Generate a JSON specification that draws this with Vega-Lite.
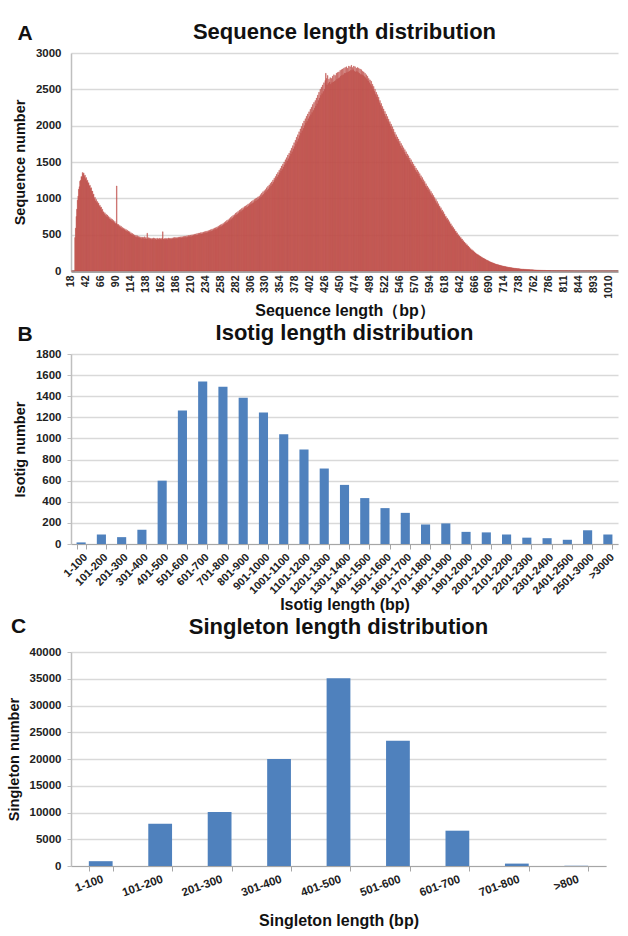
{
"$schema":"https://vega.github.io/schema/vega-lite/v6.json",
"background":"white",
"padding":{"left":6,"top":21,"right":12,"bottom":4},
"spacing":3,
"config":{
 "font":"Liberation Sans",
 "view":{"stroke":null},
 "title":{"font":"Liberation Sans","fontSize":22,"fontWeight":"bold","color":"#111111","anchor":"middle","offset":3},
 "axis":{"labelFont":"Liberation Sans","labelFontWeight":"bold","labelFontSize":11.5,"labelColor":"#222222","titleFont":"Liberation Sans","titleColor":"#111111","gridColor":"#D9D9D9","gridWidth":1.5,"domainColor":"#BFBFBF","tickColor":"#BFBFBF"},
 "axisY":{"titleFontSize":14.5,"titleFontWeight":"bold","titlePadding":8,"labelPadding":6,"tickSize":4,"domainWidth":1.5,"format":"d"},
 "axisX":{"titleFontSize":16,"titleFontWeight":"bold","grid":false}
},
"datasets":{
"seq":[
{"len":18,"n":0},{"len":19,"n":0},{"len":20,"n":0},{"len":21,"n":0},{"len":22,"n":0},{"len":23,"n":0},{"len":24,"n":460},{"len":25,"n":590},{"len":26,"n":750},{"len":27,"n":850},
{"len":28,"n":975},{"len":29,"n":1030},{"len":30,"n":1125},{"len":31,"n":1160},{"len":32,"n":1235},{"len":33,"n":1250},{"len":34,"n":1300},{"len":35,"n":1290},{"len":36,"n":1355},{"len":37,"n":1330},
{"len":38,"n":1350},{"len":39,"n":1300},{"len":40,"n":1320},{"len":41,"n":1270},{"len":42,"n":1285},{"len":43,"n":1235},{"len":44,"n":1250},{"len":45,"n":1205},{"len":46,"n":1215},{"len":47,"n":1170},
{"len":48,"n":1180},{"len":49,"n":1135},{"len":50,"n":1145},{"len":51,"n":1095},{"len":52,"n":1100},{"len":53,"n":1045},{"len":54,"n":1060},{"len":55,"n":995},{"len":56,"n":1015},{"len":57,"n":965},
{"len":58,"n":985},{"len":59,"n":940},{"len":60,"n":955},{"len":61,"n":915},{"len":62,"n":935},{"len":63,"n":890},{"len":64,"n":905},{"len":65,"n":870},{"len":66,"n":880},{"len":67,"n":835},
{"len":68,"n":850},{"len":69,"n":805},{"len":70,"n":815},{"len":71,"n":780},{"len":72,"n":800},{"len":73,"n":765},{"len":74,"n":780},{"len":75,"n":745},{"len":76,"n":770},{"len":77,"n":735},
{"len":78,"n":750},{"len":79,"n":715},{"len":80,"n":735},{"len":81,"n":705},{"len":82,"n":720},{"len":83,"n":690},{"len":84,"n":710},{"len":85,"n":680},{"len":86,"n":695},{"len":87,"n":665},
{"len":88,"n":680},{"len":89,"n":650},{"len":90,"n":660},{"len":91,"n":1170},{"len":92,"n":645},{"len":93,"n":625},{"len":94,"n":640},{"len":95,"n":610},{"len":96,"n":625},{"len":97,"n":600},
{"len":98,"n":615},{"len":99,"n":585},{"len":100,"n":600},{"len":101,"n":575},{"len":102,"n":590},{"len":103,"n":565},{"len":104,"n":580},{"len":105,"n":555},{"len":106,"n":570},{"len":107,"n":545},
{"len":108,"n":560},{"len":109,"n":535},{"len":110,"n":550},{"len":111,"n":525},{"len":112,"n":540},{"len":113,"n":510},{"len":114,"n":525},{"len":115,"n":500},{"len":116,"n":515},{"len":117,"n":490},
{"len":118,"n":505},{"len":119,"n":480},{"len":120,"n":495},{"len":121,"n":470},{"len":122,"n":490},{"len":123,"n":465},{"len":124,"n":485},{"len":125,"n":460},{"len":126,"n":475},{"len":127,"n":455},
{"len":128,"n":470},{"len":129,"n":450},{"len":130,"n":468},{"len":131,"n":445},{"len":132,"n":465},{"len":133,"n":448},{"len":134,"n":462},{"len":135,"n":440},{"len":136,"n":470},{"len":137,"n":445},
{"len":138,"n":460},{"len":139,"n":440},{"len":140,"n":520},{"len":141,"n":445},{"len":142,"n":458},{"len":143,"n":435},{"len":144,"n":455},{"len":145,"n":440},{"len":146,"n":450},{"len":147,"n":432},
{"len":148,"n":448},{"len":149,"n":438},{"len":150,"n":455},{"len":151,"n":430},{"len":152,"n":450},{"len":153,"n":436},{"len":154,"n":446},{"len":155,"n":428},{"len":156,"n":452},{"len":157,"n":435},
{"len":158,"n":445},{"len":159,"n":430},{"len":160,"n":450},{"len":161,"n":436},{"len":162,"n":448},{"len":163,"n":432},{"len":164,"n":455},{"len":165,"n":540},{"len":166,"n":442},{"len":167,"n":430},
{"len":168,"n":446},{"len":169,"n":434},{"len":170,"n":452},{"len":171,"n":438},{"len":172,"n":447},{"len":173,"n":430},{"len":174,"n":455},{"len":175,"n":440},{"len":176,"n":450},{"len":177,"n":437},
{"len":178,"n":452},{"len":179,"n":438},{"len":180,"n":455},{"len":181,"n":440},{"len":182,"n":458},{"len":183,"n":444},{"len":184,"n":462},{"len":185,"n":445},{"len":186,"n":460},{"len":187,"n":448},
{"len":188,"n":462},{"len":189,"n":446},{"len":190,"n":465},{"len":191,"n":450},{"len":192,"n":468},{"len":193,"n":452},{"len":194,"n":470},{"len":195,"n":455},{"len":196,"n":472},{"len":197,"n":458},
{"len":198,"n":475},{"len":199,"n":458},{"len":200,"n":478},{"len":201,"n":460},{"len":202,"n":480},{"len":203,"n":462},{"len":204,"n":485},{"len":205,"n":466},{"len":206,"n":488},{"len":207,"n":470},
{"len":208,"n":490},{"len":209,"n":472},{"len":210,"n":495},{"len":211,"n":475},{"len":212,"n":498},{"len":213,"n":480},{"len":214,"n":500},{"len":215,"n":485},{"len":216,"n":505},{"len":217,"n":488},
{"len":218,"n":510},{"len":219,"n":492},{"len":220,"n":515},{"len":221,"n":495},{"len":222,"n":520},{"len":223,"n":500},{"len":224,"n":522},{"len":225,"n":505},{"len":226,"n":528},{"len":227,"n":508},
{"len":228,"n":530},{"len":229,"n":512},{"len":230,"n":535},{"len":231,"n":515},{"len":232,"n":540},{"len":233,"n":520},{"len":234,"n":545},{"len":235,"n":525},{"len":236,"n":550},{"len":237,"n":530},
{"len":238,"n":555},{"len":239,"n":535},{"len":240,"n":560},{"len":241,"n":540},{"len":242,"n":568},{"len":243,"n":548},{"len":244,"n":575},{"len":245,"n":555},{"len":246,"n":580},{"len":247,"n":560},
{"len":248,"n":590},{"len":249,"n":568},{"len":250,"n":595},{"len":251,"n":575},{"len":252,"n":605},{"len":253,"n":585},{"len":254,"n":615},{"len":255,"n":595},{"len":256,"n":625},{"len":257,"n":605},
{"len":258,"n":635},{"len":259,"n":612},{"len":260,"n":645},{"len":261,"n":625},{"len":262,"n":655},{"len":263,"n":635},{"len":264,"n":668},{"len":265,"n":645},{"len":266,"n":680},{"len":267,"n":660},
{"len":268,"n":695},{"len":269,"n":670},{"len":270,"n":705},{"len":271,"n":685},{"len":272,"n":720},{"len":273,"n":695},{"len":274,"n":735},{"len":275,"n":710},{"len":276,"n":750},{"len":277,"n":725},
{"len":278,"n":765},{"len":279,"n":740},{"len":280,"n":775},{"len":281,"n":755},{"len":282,"n":795},{"len":283,"n":770},{"len":284,"n":805},{"len":285,"n":780},{"len":286,"n":820},{"len":287,"n":795},
{"len":288,"n":835},{"len":289,"n":810},{"len":290,"n":845},{"len":291,"n":820},{"len":292,"n":860},{"len":293,"n":835},{"len":294,"n":870},{"len":295,"n":845},{"len":296,"n":885},{"len":297,"n":860},
{"len":298,"n":895},{"len":299,"n":870},{"len":300,"n":905},{"len":301,"n":880},{"len":302,"n":920},{"len":303,"n":895},{"len":304,"n":930},{"len":305,"n":905},{"len":306,"n":945},{"len":307,"n":920},
{"len":308,"n":960},{"len":309,"n":930},{"len":310,"n":970},{"len":311,"n":940},{"len":312,"n":985},{"len":313,"n":955},{"len":314,"n":995},{"len":315,"n":965},{"len":316,"n":1005},{"len":317,"n":980},
{"len":318,"n":1020},{"len":319,"n":990},{"len":320,"n":1030},{"len":321,"n":1005},{"len":322,"n":1050},{"len":323,"n":1020},{"len":324,"n":1070},{"len":325,"n":1040},{"len":326,"n":1090},{"len":327,"n":1055},
{"len":328,"n":1105},{"len":329,"n":1075},{"len":330,"n":1120},{"len":331,"n":1090},{"len":332,"n":1145},{"len":333,"n":1110},{"len":334,"n":1165},{"len":335,"n":1130},{"len":336,"n":1185},{"len":337,"n":1150},
{"len":338,"n":1205},{"len":339,"n":1170},{"len":340,"n":1225},{"len":341,"n":1195},{"len":342,"n":1250},{"len":343,"n":1220},{"len":344,"n":1275},{"len":345,"n":1245},{"len":346,"n":1300},{"len":347,"n":1270},
{"len":348,"n":1330},{"len":349,"n":1295},{"len":350,"n":1355},{"len":351,"n":1320},{"len":352,"n":1385},{"len":353,"n":1350},{"len":354,"n":1410},{"len":355,"n":1375},{"len":356,"n":1445},{"len":357,"n":1400},
{"len":358,"n":1470},{"len":359,"n":1430},{"len":360,"n":1500},{"len":361,"n":1460},{"len":362,"n":1530},{"len":363,"n":1480},{"len":364,"n":1560},{"len":365,"n":1515},{"len":366,"n":1595},{"len":367,"n":1545},
{"len":368,"n":1620},{"len":369,"n":1575},{"len":370,"n":1655},{"len":371,"n":1610},{"len":372,"n":1690},{"len":373,"n":1640},{"len":374,"n":1725},{"len":375,"n":1680},{"len":376,"n":1765},{"len":377,"n":1710},
{"len":378,"n":1800},{"len":379,"n":1745},{"len":380,"n":1840},{"len":381,"n":1780},{"len":382,"n":1875},{"len":383,"n":1820},{"len":384,"n":1915},{"len":385,"n":1860},{"len":386,"n":1955},{"len":387,"n":1895},
{"len":388,"n":1990},{"len":389,"n":1930},{"len":390,"n":2030},{"len":391,"n":1965},{"len":392,"n":2065},{"len":393,"n":2000},{"len":394,"n":2095},{"len":395,"n":2035},{"len":396,"n":2130},{"len":397,"n":2060},
{"len":398,"n":2160},{"len":399,"n":2095},{"len":400,"n":2190},{"len":401,"n":2125},{"len":402,"n":2225},{"len":403,"n":2150},{"len":404,"n":2255},{"len":405,"n":2180},{"len":406,"n":2290},{"len":407,"n":2210},
{"len":408,"n":2320},{"len":409,"n":2240},{"len":410,"n":2345},{"len":411,"n":2270},{"len":412,"n":2380},{"len":413,"n":2300},{"len":414,"n":2420},{"len":415,"n":2345},{"len":416,"n":2460},{"len":417,"n":2380},
{"len":418,"n":2500},{"len":419,"n":2415},{"len":420,"n":2530},{"len":421,"n":2440},{"len":422,"n":2560},{"len":423,"n":2470},{"len":424,"n":2590},{"len":425,"n":2500},{"len":426,"n":2620},{"len":427,"n":2720},
{"len":428,"n":2650},{"len":429,"n":2560},{"len":430,"n":2690},{"len":431,"n":2580},{"len":432,"n":2640},{"len":433,"n":2600},{"len":434,"n":2660},{"len":435,"n":2570},{"len":436,"n":2650},{"len":437,"n":2590},
{"len":438,"n":2680},{"len":439,"n":2600},{"len":440,"n":2700},{"len":441,"n":2610},{"len":442,"n":2690},{"len":443,"n":2620},{"len":444,"n":2720},{"len":445,"n":2640},{"len":446,"n":2730},{"len":447,"n":2650},
{"len":448,"n":2740},{"len":449,"n":2660},{"len":450,"n":2760},{"len":451,"n":2680},{"len":452,"n":2770},{"len":453,"n":2690},{"len":454,"n":2780},{"len":455,"n":2700},{"len":456,"n":2790},{"len":457,"n":2720},
{"len":458,"n":2800},{"len":459,"n":2720},{"len":460,"n":2810},{"len":461,"n":2730},{"len":462,"n":2790},{"len":463,"n":2740},{"len":464,"n":2820},{"len":465,"n":2750},{"len":466,"n":2810},{"len":467,"n":2760},
{"len":468,"n":2830},{"len":469,"n":2760},{"len":470,"n":2800},{"len":471,"n":2770},{"len":472,"n":2820},{"len":473,"n":2750},{"len":474,"n":2810},{"len":475,"n":2740},{"len":476,"n":2790},{"len":477,"n":2745},
{"len":478,"n":2800},{"len":479,"n":2730},{"len":480,"n":2790},{"len":481,"n":2720},{"len":482,"n":2780},{"len":483,"n":2705},{"len":484,"n":2770},{"len":485,"n":2700},{"len":486,"n":2750},{"len":487,"n":2690},
{"len":488,"n":2740},{"len":489,"n":2675},{"len":490,"n":2720},{"len":491,"n":2660},{"len":492,"n":2700},{"len":493,"n":2640},{"len":494,"n":2680},{"len":495,"n":2615},{"len":496,"n":2650},{"len":497,"n":2590},
{"len":498,"n":2630},{"len":499,"n":2565},{"len":500,"n":2610},{"len":501,"n":2540},{"len":502,"n":2570},{"len":503,"n":2500},{"len":504,"n":2540},{"len":505,"n":2470},{"len":506,"n":2500},{"len":507,"n":2430},
{"len":508,"n":2460},{"len":509,"n":2395},{"len":510,"n":2425},{"len":511,"n":2355},{"len":512,"n":2390},{"len":513,"n":2315},{"len":514,"n":2345},{"len":515,"n":2280},{"len":516,"n":2305},{"len":517,"n":2235},
{"len":518,"n":2265},{"len":519,"n":2195},{"len":520,"n":2230},{"len":521,"n":2160},{"len":522,"n":2195},{"len":523,"n":2125},{"len":524,"n":2160},{"len":525,"n":2090},{"len":526,"n":2125},{"len":527,"n":2055},
{"len":528,"n":2090},{"len":529,"n":2025},{"len":530,"n":2055},{"len":531,"n":1990},{"len":532,"n":2020},{"len":533,"n":1950},{"len":534,"n":1985},{"len":535,"n":1915},{"len":536,"n":1950},{"len":537,"n":1880},
{"len":538,"n":1910},{"len":539,"n":1845},{"len":540,"n":1875},{"len":541,"n":1810},{"len":542,"n":1845},{"len":543,"n":1780},{"len":544,"n":1815},{"len":545,"n":1750},{"len":546,"n":1785},{"len":547,"n":1720},
{"len":548,"n":1755},{"len":549,"n":1690},{"len":550,"n":1725},{"len":551,"n":1660},{"len":552,"n":1695},{"len":553,"n":1635},{"len":554,"n":1670},{"len":555,"n":1605},{"len":556,"n":1640},{"len":557,"n":1580},
{"len":558,"n":1610},{"len":559,"n":1550},{"len":560,"n":1585},{"len":561,"n":1520},{"len":562,"n":1555},{"len":563,"n":1495},{"len":564,"n":1530},{"len":565,"n":1465},{"len":566,"n":1500},{"len":567,"n":1440},
{"len":568,"n":1470},{"len":569,"n":1410},{"len":570,"n":1445},{"len":571,"n":1385},{"len":572,"n":1415},{"len":573,"n":1360},{"len":574,"n":1390},{"len":575,"n":1335},{"len":576,"n":1365},{"len":577,"n":1305},
{"len":578,"n":1340},{"len":579,"n":1280},{"len":580,"n":1310},{"len":581,"n":1255},{"len":582,"n":1285},{"len":583,"n":1225},{"len":584,"n":1255},{"len":585,"n":1200},{"len":586,"n":1230},{"len":587,"n":1170},
{"len":588,"n":1200},{"len":589,"n":1145},{"len":590,"n":1170},{"len":591,"n":1115},{"len":592,"n":1145},{"len":593,"n":1090},{"len":594,"n":1120},{"len":595,"n":1065},{"len":596,"n":1095},{"len":597,"n":1040},
{"len":598,"n":1065},{"len":599,"n":1015},{"len":600,"n":1040},{"len":601,"n":985},{"len":602,"n":1010},{"len":603,"n":960},{"len":604,"n":985},{"len":605,"n":930},{"len":606,"n":955},{"len":607,"n":905},
{"len":608,"n":925},{"len":609,"n":875},{"len":610,"n":895},{"len":611,"n":850},{"len":612,"n":870},{"len":613,"n":820},{"len":614,"n":840},{"len":615,"n":795},{"len":616,"n":815},{"len":617,"n":765},
{"len":618,"n":785},{"len":619,"n":740},{"len":620,"n":755},{"len":621,"n":712},{"len":622,"n":730},{"len":623,"n":690},{"len":624,"n":705},{"len":625,"n":662},{"len":626,"n":678},{"len":627,"n":638},
{"len":628,"n":650},{"len":629,"n":612},{"len":630,"n":622},{"len":631,"n":588},{"len":632,"n":598},{"len":633,"n":563},{"len":634,"n":575},{"len":635,"n":540},{"len":636,"n":550},{"len":637,"n":515},
{"len":638,"n":525},{"len":639,"n":492},{"len":640,"n":500},{"len":641,"n":470},{"len":642,"n":480},{"len":643,"n":452},{"len":644,"n":460},{"len":645,"n":432},{"len":646,"n":440},{"len":647,"n":412},
{"len":648,"n":418},{"len":649,"n":393},{"len":650,"n":398},{"len":651,"n":374},{"len":652,"n":380},{"len":653,"n":357},{"len":654,"n":362},{"len":655,"n":340},{"len":656,"n":343},{"len":657,"n":321},
{"len":658,"n":324},{"len":659,"n":304},{"len":660,"n":306},{"len":661,"n":288},{"len":662,"n":291},{"len":663,"n":274},{"len":664,"n":277},{"len":665,"n":260},{"len":666,"n":263},{"len":667,"n":247},
{"len":668,"n":248},{"len":669,"n":233},{"len":670,"n":234},{"len":671,"n":220},{"len":672,"n":222},{"len":673,"n":209},{"len":674,"n":211},{"len":675,"n":199},{"len":676,"n":200},{"len":677,"n":188},
{"len":678,"n":189},{"len":679,"n":177},{"len":680,"n":178},{"len":681,"n":167},{"len":682,"n":169},{"len":683,"n":158},{"len":684,"n":160},{"len":685,"n":149},{"len":686,"n":150},{"len":687,"n":141},
{"len":688,"n":141},{"len":689,"n":132},{"len":690,"n":132},{"len":691,"n":124},{"len":692,"n":125},{"len":693,"n":117},{"len":694,"n":118},{"len":695,"n":110},{"len":696,"n":111},{"len":697,"n":103},
{"len":698,"n":104},{"len":699,"n":96},{"len":700,"n":97},{"len":701,"n":90},{"len":702,"n":92},{"len":703,"n":85},{"len":704,"n":87},{"len":705,"n":80},{"len":706,"n":82},{"len":707,"n":76},
{"len":708,"n":77},{"len":709,"n":71},{"len":710,"n":72},{"len":711,"n":66},{"len":712,"n":68},{"len":713,"n":63},{"len":714,"n":64},{"len":715,"n":59},{"len":716,"n":61},{"len":717,"n":56},
{"len":718,"n":57},{"len":719,"n":52},{"len":720,"n":53},{"len":721,"n":49},{"len":722,"n":50},{"len":723,"n":46},{"len":724,"n":47},{"len":725,"n":44},{"len":726,"n":45},{"len":727,"n":41},
{"len":728,"n":42},{"len":729,"n":38},{"len":730,"n":39},{"len":731,"n":36},{"len":732,"n":37},{"len":733,"n":34},{"len":734,"n":35},{"len":735,"n":32},{"len":736,"n":33},{"len":737,"n":30},
{"len":738,"n":31},{"len":739,"n":28},{"len":740,"n":29},{"len":741,"n":26},{"len":742,"n":27},{"len":743,"n":25},{"len":744,"n":26},{"len":745,"n":24},{"len":746,"n":24},{"len":747,"n":22},
{"len":748,"n":23},{"len":749,"n":21},{"len":750,"n":22},{"len":751,"n":20},{"len":752,"n":20},{"len":753,"n":19},{"len":754,"n":19},{"len":755,"n":18},{"len":756,"n":18},{"len":757,"n":17},
{"len":758,"n":17},{"len":759,"n":16},{"len":760,"n":16},{"len":761,"n":15},{"len":762,"n":15},{"len":763,"n":14},{"len":764,"n":14},{"len":765,"n":13},{"len":766,"n":13},{"len":767,"n":12},
{"len":768,"n":12},{"len":769,"n":11},{"len":770,"n":11},{"len":771,"n":10},{"len":772,"n":10},{"len":773,"n":10},{"len":774,"n":9},{"len":775,"n":9},{"len":776,"n":9},{"len":777,"n":8},
{"len":778,"n":8},{"len":779,"n":8},{"len":780,"n":8},{"len":781,"n":7},{"len":782,"n":7},{"len":783,"n":7},{"len":784,"n":7},{"len":785,"n":7},{"len":786,"n":6},
{"len":787,"n":6},{"len":788,"n":6},{"len":789,"n":5},{"len":790,"n":5},{"len":791,"n":5},{"len":792,"n":4},{"len":793,"n":5},{"len":794,"n":4},{"len":795,"n":4},{"len":796,"n":4},{"len":797,"n":3},{"len":798,"n":4},
{"len":800,"n":3},{"len":801,"n":3},{"len":802,"n":3},{"len":803,"n":3},{"len":804,"n":3},{"len":805,"n":2},{"len":806,"n":3},{"len":807,"n":2},{"len":808,"n":2},{"len":809,"n":2},{"len":810,"n":2},{"len":811,"n":2},
{"len":812,"n":2},{"len":813,"n":2},{"len":814,"n":2},{"len":815,"n":2},{"len":816,"n":2},{"len":818,"n":2},{"len":819,"n":1},{"len":820,"n":2},{"len":822,"n":2},{"len":823,"n":1},{"len":825,"n":2},{"len":826,"n":1},
{"len":827,"n":1},{"len":829,"n":2},{"len":830,"n":1},{"len":832,"n":1},{"len":833,"n":1},{"len":835,"n":1},{"len":836,"n":1},{"len":838,"n":1},{"len":839,"n":1},{"len":841,"n":1},{"len":842,"n":1},{"len":844,"n":1},
{"len":846,"n":1},{"len":848,"n":1},{"len":850,"n":1},{"len":852,"n":1},{"len":854,"n":1},{"len":856,"n":1},{"len":858,"n":1},{"len":860,"n":1},{"len":862,"n":1},{"len":864,"n":1},{"len":866,"n":1},{"len":868,"n":1},
{"len":870,"n":1},{"len":872,"n":1},{"len":874,"n":1},{"len":876,"n":1},{"len":878,"n":1},{"len":880,"n":1},{"len":882,"n":1},{"len":884,"n":1},{"len":886,"n":1},{"len":888,"n":1},{"len":890,"n":1},{"len":893,"n":1},
{"len":898,"n":1},{"len":903,"n":1},{"len":908,"n":1},{"len":913,"n":1},{"len":918,"n":1},{"len":923,"n":1},{"len":928,"n":1},{"len":933,"n":1},{"len":938,"n":1},{"len":943,"n":1},{"len":948,"n":1},{"len":953,"n":1},
{"len":958,"n":1},{"len":963,"n":1},{"len":968,"n":1},{"len":973,"n":1},{"len":978,"n":1},{"len":983,"n":1},{"len":988,"n":1},{"len":993,"n":1},{"len":998,"n":1},{"len":1002,"n":1},{"len":1006,"n":1},{"len":1010,"n":1},
{"len":1018,"n":1},{"len":1025,"n":1},{"len":1033,"n":1},{"len":1041,"n":1},{"len":1050,"n":1},{"len":1062,"n":1},{"len":1075,"n":1},{"len":1089,"n":1},{"len":1104,"n":1},{"len":1121,"n":1},{"len":1140,"n":1},{"len":1166,"n":1},{"len":1198,"n":1},{"len":1252,"n":1}
],
"iso":[
{"r":"1-100","n":15},{"r":"101-200","n":90},{"r":"201-300","n":65},{"r":"301-400","n":135},{"r":"401-500","n":600},{"r":"501-600","n":1265},{"r":"601-700","n":1540},{"r":"701-800","n":1490},{"r":"801-900","n":1385},{"r":"901-1000","n":1245},{"r":"1001-1100","n":1040},{"r":"1101-1200","n":895},{"r":"1201-1300","n":715},{"r":"1301-1400","n":560},{"r":"1401-1500","n":435},{"r":"1501-1600","n":340},{"r":"1601-1700","n":295},{"r":"1701-1800","n":185},{"r":"1801-1900","n":195},{"r":"1901-2000","n":115},{"r":"2001-2100","n":110},{"r":"2101-2200","n":90},{"r":"2201-2300","n":60},{"r":"2301-2400","n":55},{"r":"2401-2500","n":40},{"r":"2501-3000","n":130},{"r":">3000","n":90}
],
"sgl":[
{"r":"1-100","n":900},{"r":"101-200","n":7900},{"r":"201-300","n":10100},{"r":"301-400","n":20000},{"r":"401-500","n":35100},{"r":"501-600","n":23400},{"r":"601-700","n":6600},{"r":"701-800","n":450},{"r":">800","n":30}
]
},
"vconcat":[
{"title":{"text":"A","anchor":"start","frame":"bounds","dx":5,"dy":23,"offset":0,"fontSize":21},
 "vconcat":[{
  "title":"Sequence length distribution",
  "width":547,"height":218,
  "data":{"name":"seq"},
  "mark":{"type":"bar","color":"#C0504D","stroke":"#C0504D","strokeWidth":0.4},
  "encoding":{
   "x":{"field":"len","type":"ordinal","sort":null,"scale":{"paddingInner":0,"paddingOuter":0},
        "axis":{"values":[18,42,66,90,114,138,162,186,210,234,258,282,306,330,354,378,402,426,450,474,498,522,546,570,594,618,642,666,690,714,738,762,786,811,844,893,1010],
                "labelAngle":-90,"labelFontSize":10.5,"labelPadding":4,"ticks":false,"domainColor":"#A6A6A6","domainWidth":3,"title":"Sequence length（bp）","titlePadding":4}},
   "y":{"field":"n","type":"quantitative","scale":{"domain":[0,3000]},
        "axis":{"values":[0,500,1000,1500,2000,2500,3000],"title":"Sequence number","ticks":false,"labelPadding":10}}
  }
 }]
},
{"title":{"text":"B","anchor":"start","frame":"bounds","dx":5,"dy":23,"offset":0,"fontSize":21},
 "vconcat":[{
  "title":"Isotig length distribution",
  "width":547,"height":190,
  "data":{"name":"iso"},
  "mark":{"type":"bar","color":"#4F81BD"},
  "encoding":{
   "x":{"field":"r","type":"nominal","sort":null,"scale":{"paddingInner":0.55,"paddingOuter":0.275},
        "axis":{"labelAngle":-45,"labelFontSize":11,"tickBand":"extent","tickSize":5,"domainColor":"#A6A6A6","tickColor":"#A6A6A6","title":"Isotig length (bp)","titlePadding":1}},
   "y":{"field":"n","type":"quantitative","scale":{"domain":[0,1800]},
        "axis":{"values":[0,200,400,600,800,1000,1200,1400,1600,1800],"title":"Isotig number"}}
  }
 }]
},
{"title":{"text":"C","anchor":"start","frame":"bounds","dx":5,"dy":21,"offset":0,"fontSize":21},
 "vconcat":[{
  "title":{"text":"Singleton length distribution","offset":7},
  "width":535,"height":214,
  "data":{"name":"sgl"},
  "mark":{"type":"bar","color":"#4F81BD"},
  "encoding":{
   "x":{"field":"r","type":"nominal","sort":null,"scale":{"paddingInner":0.6,"paddingOuter":0.3},
        "axis":{"labelAngle":-20,"labelFontSize":11.5,"tickBand":"extent","tickSize":5,"domainColor":"#A6A6A6","tickColor":"#A6A6A6","title":"Singleton length (bp)","titlePadding":14}},
   "y":{"field":"n","type":"quantitative","scale":{"domain":[0,40000]},
        "axis":{"values":[0,5000,10000,15000,20000,25000,30000,35000,40000],"title":"Singleton number"}}
  }
 }]
}
]
}
